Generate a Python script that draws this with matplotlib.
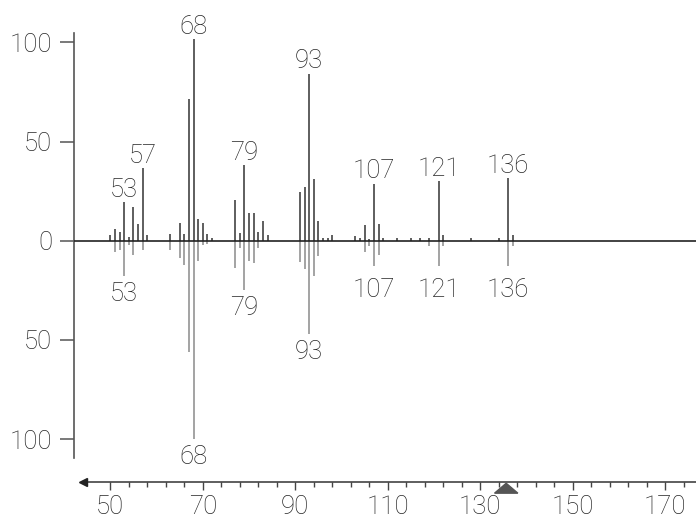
import matplotlib
matplotlib.use("Agg")
import matplotlib.pyplot as plt
import numpy as np

# ---- data ----
top_mz = [50, 51, 52, 53, 54, 55, 56, 57, 58,
          63, 65, 66, 67, 68, 69, 70, 71, 72,
          77, 78, 79, 80, 81, 82, 83, 84,
          91, 92, 93, 94, 95, 96, 97, 98,
          103, 104, 105, 106, 107, 108, 109, 112, 115, 117, 119,
          121, 122, 128, 134, 136, 137]
top_int = [3.0, 5.8, 4.5, 19.4, 2.0, 16.8, 8.2, 36.5, 2.9,
           3.2, 8.8, 3.3, 71.4, 101.7, 11.1, 8.9, 3.2, 1.5,
           20.5, 3.9, 38.0, 13.8, 13.8, 4.5, 9.9, 2.9,
           24.4, 27.3, 84.2, 31.1, 9.9, 1.3, 1.3, 2.9,
           2.2, 1.3, 8.1, 1.0, 28.6, 8.4, 1.3, 1.3, 1.3, 1.3, 1.3,
           30.0, 2.7, 1.3, 1.3, 31.6, 2.7]

bot_mz = [51, 52, 53, 54, 55, 57,
          63, 65, 66, 67, 68, 69, 70, 71,
          77, 78, 79, 80, 81, 82,
          91, 92, 93, 94, 95,
          105, 106, 107, 108, 119, 121, 122, 136, 137]
bot_int = [5.8, 4.7, 18.0, 2.2, 7.0, 4.5,
           4.5, 8.5, 12.4, 56.1, 100.0, 10.2, 2.0, 1.5,
           13.8, 3.7, 24.9, 10.4, 11.4, 3.7,
           10.9, 14.3, 47.1, 17.7, 7.6,
           5.9, 2.9, 12.6, 7.4, 2.5, 12.6, 2.5, 12.6, 2.5]

top_labels = [53, 57, 68, 79, 93, 107, 121, 136]
bot_labels = [53, 68, 79, 93, 107, 121, 136]

y_ticks = [-100, -50, 0, 50, 100]
y_ticklabels = ["100", "50", "0", "50", "100"]
x_major = [50, 70, 90, 110, 130, 150, 170]
precursor_mz = 135.6

# ---- styling ----
FONT = dict(family=["Roboto", "DejaVu Sans"], fontweight="light")
TXT = "#262626"
FS = 18.5

fig = plt.figure(figsize=(6.96, 5.14), dpi=100)
ax = fig.add_axes([0, 0, 1, 1])
ax.set_xlim(26.15, 176.64)
ax.set_ylim(-137.8, 121.4)
ax.patch.set_alpha(0)

spine_x = 42.22
axis_y = -121.7

# peaks
ax.vlines(top_mz, 0, top_int, color="#333333", lw=1.1, zorder=2)
ax.vlines(bot_mz, 0, -np.array(bot_int), color="#8a8a8a", lw=1.1, zorder=2)
ax.hlines(0, spine_x, 176.64, color="#222222", lw=1.2, zorder=3)

# peak labels
top_map = dict(zip(top_mz, top_int))
bot_map = dict(zip(bot_mz, bot_int))
for m in top_labels:
    ax.text(m, top_map[m] + 2.8, str(m), ha="center", va="baseline",
            fontsize=FS, color=TXT, **FONT)
for m in bot_labels:
    ax.text(m, -max(bot_map[m] + 3.0, 18.8), str(m), ha="center", va="top",
            fontsize=FS, color=TXT, **FONT)

# spines
for s in ["top", "right"]:
    ax.spines[s].set_visible(False)
ax.spines["left"].set_position(("data", spine_x))
ax.spines["left"].set_bounds(-109.4, 104.9)
ax.spines["left"].set_color("#555555")
ax.spines["left"].set_linewidth(1.2)
ax.spines["bottom"].set_position(("data", axis_y))
ax.spines["bottom"].set_bounds(44.0, 176.64)
ax.spines["bottom"].set_color("#333333")
ax.spines["bottom"].set_linewidth(1.1)

ax.set_yticks(y_ticks)
ax.set_yticklabels(y_ticklabels, fontsize=FS, color=TXT, **FONT)
ax.tick_params(axis="y", length=10, width=1.1, color="#555555", pad=6)

ax.set_xticks(x_major)
ax.set_xticklabels([str(v) for v in x_major], fontsize=FS, color=TXT, **FONT)
minor = [v for v in range(50, 176, 4) if v not in x_major]
ax.set_xticks(minor, minor=True)
ax.tick_params(axis="x", which="major", length=5.5, width=1.0, color="#444444", pad=3.5)
ax.tick_params(axis="x", which="minor", length=3.6, width=1.0, color="#444444")

# left arrow head of the m/z axis
ax.plot([44.1], [axis_y], marker="<", markersize=6, color="#222222",
        clip_on=False, zorder=4)

# precursor marker
ax.fill([precursor_mz - 2.52, precursor_mz + 2.52, precursor_mz],
        [axis_y - 5.6, axis_y - 5.6, axis_y - 0.6],
        color="#555555", zorder=4, clip_on=False)

fig.savefig("out.png", dpi=100)
